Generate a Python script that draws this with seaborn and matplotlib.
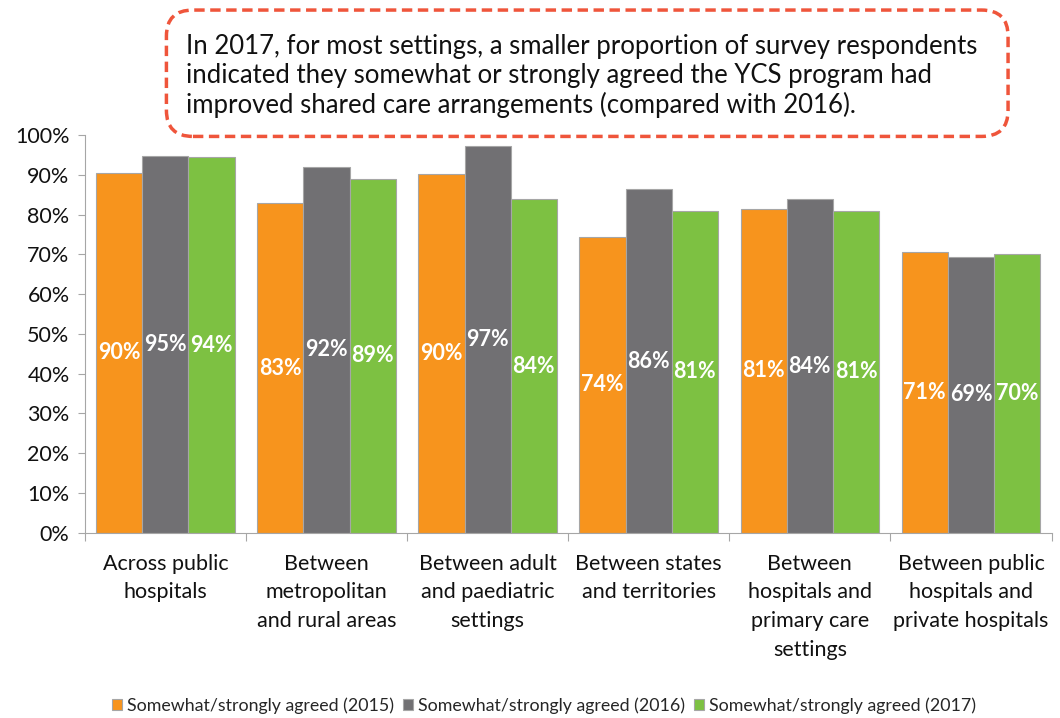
import pandas as pd
import matplotlib.pyplot as plt
import seaborn as sns
from matplotlib.patches import FancyBboxPatch
from matplotlib.ticker import PercentFormatter

# Data
settings = [
    "Across public\nhospitals",
    "Between\nmetropolitan\nand rural areas",
    "Between adult\nand paediatric\nsettings",
    "Between states\nand territories",
    "Between\nhospitals and\nprimary care\nsettings",
    "Between public\nhospitals and\nprivate hospitals",
]
series = [
    "Somewhat/strongly agreed (2015)",
    "Somewhat/strongly agreed (2016)",
    "Somewhat/strongly agreed (2017)",
]
agreed_2015 = [90.4, 82.8, 90.2, 74.4, 81.4, 70.6]
agreed_2016 = [94.6, 91.9, 97.2, 86.3, 83.8, 69.3]
agreed_2017 = [94.4, 89.0, 83.8, 81.0, 81.0, 70.0]
colors = ["#F7941D", "#717073", "#7DC142"]

df = pd.DataFrame({
    "setting": settings * 3,
    "series": [s for s in series for _ in settings],
    "value": agreed_2015 + agreed_2016 + agreed_2017,
})

sns.set_style("white")
plt.rcParams["font.family"] = ["Lato", "DejaVu Sans"]

fig = plt.figure(figsize=(10.6, 7.18), dpi=100)
ax = fig.add_axes([0.080, 0.258, 0.912, 0.554])

sns.barplot(data=df, x="setting", y="value", hue="series", palette=colors,
            width=0.86, edgecolor="#A6A6A6", linewidth=0.8, saturation=1, ax=ax)

for cont in ax.containers:
    ax.bar_label(cont, labels=[f"{v:.0f}%" for v in cont.datavalues],
                 label_type="center", color="white", fontsize=15.5,
                 fontweight="bold")

ax.set_ylim(0, 100)
ax.set_xlim(-0.5, len(settings) - 0.5)
ax.set_yticks(range(0, 101, 10))
ax.yaxis.set_major_formatter(PercentFormatter(decimals=0))
ax.tick_params(axis="y", labelsize=15.5, length=5, color="#A6A6A6", direction="out",
               left=True, pad=6, labelcolor="#111111")
ax.set_xticks([i - 0.5 for i in range(len(settings) + 1)], minor=False)
ax.set_xticklabels([])
ax.set_xticks(range(len(settings)), minor=True)
ax.set_xticklabels(settings, minor=True, fontsize=15.5, va="top", linespacing=1.55,
                   color="#111111")
ax.tick_params(axis="x", which="major", length=6, color="#A6A6A6", direction="out", bottom=True)
ax.tick_params(axis="x", which="minor", length=0, pad=15)
ax.set_xlabel("")
ax.set_ylabel("")
for side in ["top", "right"]:
    ax.spines[side].set_visible(False)
for side in ["left", "bottom"]:
    ax.spines[side].set_color("#A6A6A6")

ax.legend(loc="lower center", bbox_to_anchor=(0.475, -0.495), ncol=3, frameon=False,
          fontsize=12.8, handlelength=0.55, handleheight=0.55, handletextpad=0.3,
          columnspacing=0.5)

# Callout box
box = FancyBboxPatch((0.157, 0.810), 0.794, 0.176, transform=fig.transFigure,
                     boxstyle="round,pad=0,rounding_size=0.025",
                     facecolor="white", edgecolor="#EF553B", linewidth=2.5,
                     linestyle=(0, (3, 1.6)), mutation_aspect=1.45)
fig.patches.append(box)
fig.text(0.175, 0.894,
         "In 2017, for most settings, a smaller proportion of survey respondents\n"
         "indicated they somewhat or strongly agreed the YCS program had\n"
         "improved shared care arrangements (compared with 2016).",
         fontsize=18.5, va="center", ha="left", linespacing=1.2, color="#111111")

fig.savefig("out.png", dpi=100)
